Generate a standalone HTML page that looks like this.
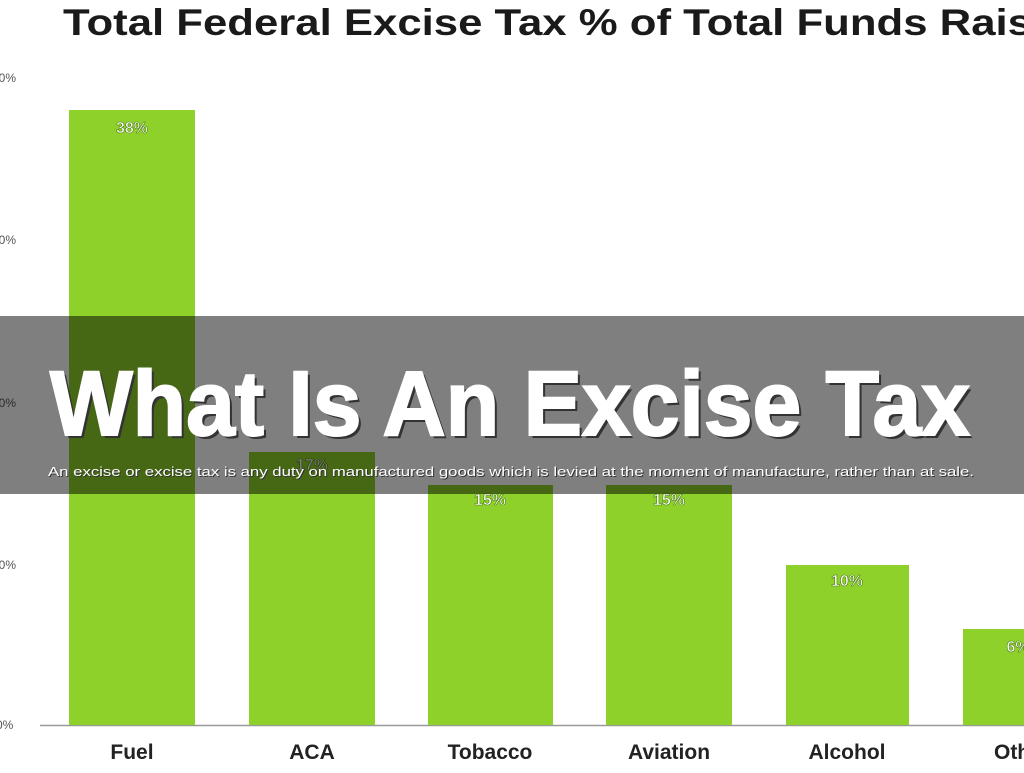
<!DOCTYPE html>
<html><head><meta charset="utf-8"><style>html,body{margin:0;padding:0;background:#fff;overflow:hidden}</style></head>
<body>
<svg width="1024" height="768" xmlns="http://www.w3.org/2000/svg" font-family="Liberation Sans, Arial, sans-serif">
<rect width="1024" height="768" fill="#fff"/>
<text x="63" y="35" font-size="37" font-weight="bold" fill="#1a1a1a" textLength="1020" lengthAdjust="spacingAndGlyphs">Total Federal Excise Tax % of Total Funds Raised</text>
<g font-size="12" fill="#555">
<text x="-8" y="82">40%</text><text x="-8" y="244">30%</text><text x="-8" y="407">20%</text><text x="-8" y="569">10%</text><text x="-4" y="729">0%</text>
</g>
<line x1="40" y1="725.5" x2="1024" y2="725.5" stroke="#999" stroke-width="1.5"/>
<g fill="#8dd12a">
<rect x="69" y="110" width="126" height="615"/>
<rect x="249" y="452" width="126" height="273"/>
<rect x="428" y="485" width="125" height="240"/>
<rect x="606" y="485" width="126" height="240"/>
<rect x="786" y="565" width="123" height="160"/>
<rect x="963" y="629" width="70" height="96"/>
</g>
<g font-size="16" font-weight="bold" fill="#fff" text-anchor="middle" stroke="#4a7a10" stroke-width="0.6">
<text x="132" y="133">38%</text><text x="312" y="470">17%</text><text x="490" y="505">15%</text><text x="669" y="505">15%</text><text x="847" y="586">10%</text><text x="1018" y="652">6%</text>
</g>
<g font-size="21" font-weight="bold" fill="#222" text-anchor="middle">
<text x="132" y="759">Fuel</text><text x="312" y="759">ACA</text><text x="490" y="759">Tobacco</text><text x="669" y="759">Aviation</text><text x="847" y="759">Alcohol</text><text x="1022" y="759">Other</text>
</g>
<rect x="0" y="316" width="1024" height="178" fill="#000" opacity="0.5"/>
<text x="53" y="438" font-size="92" font-weight="bold" fill="#333" textLength="920" lengthAdjust="spacingAndGlyphs">What Is An Excise Tax</text>
<text x="50" y="435" font-size="92" font-weight="bold" fill="#fff" stroke="#fff" stroke-width="2" textLength="920" lengthAdjust="spacingAndGlyphs">What Is An Excise Tax</text>
<text x="49" y="477" font-size="13" fill="#333" textLength="926" lengthAdjust="spacingAndGlyphs">An excise or excise tax is any duty on manufactured goods which is levied at the moment of manufacture, rather than at sale.</text>
<text x="48" y="476" font-size="13" fill="#fff" textLength="926" lengthAdjust="spacingAndGlyphs">An excise or excise tax is any duty on manufactured goods which is levied at the moment of manufacture, rather than at sale.</text>
</svg>
</body></html>
